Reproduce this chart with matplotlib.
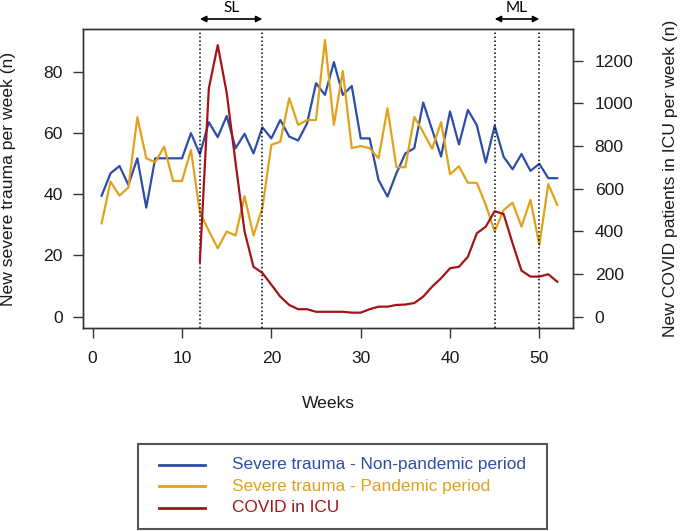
import matplotlib
matplotlib.use("Agg")
import matplotlib.pyplot as plt
from matplotlib.patches import Rectangle
from matplotlib.lines import Line2D

weeks = list(range(1, 53))
non_pandemic = [39.5, 46.8, 49.2, 43.0, 51.7, 35.6, 51.7, 51.7, 51.7, 51.7,
                59.9, 53.0, 63.5, 58.6, 65.5, 55.0, 59.7, 53.3, 61.8, 58.2,
                64.2, 58.8, 57.5, 63.1, 76.2, 72.4, 83.1, 72.4, 75.3, 58.2,
                58.2, 44.6, 39.2, 46.8, 53.3, 55.0, 69.9, 61.0, 52.3, 67.0,
                56.2, 67.5, 62.5, 50.3, 62.3, 52.2, 48.1, 53.1, 47.6, 49.9,
                45.2, 45.2]
pandemic = [30.5, 44.1, 39.5, 42.2, 65.1, 51.7, 50.4, 55.5, 44.3, 44.3,
            54.4, 34.0, 28.0, 22.3, 27.8, 26.5, 39.3, 26.5, 35.5, 56.1,
            57.1, 71.3, 62.6, 64.2, 64.2, 90.3, 62.6, 80.2, 55.0, 55.7,
            55.0, 51.7, 68.0, 48.8, 48.8, 65.2, 60.2, 54.8, 63.5, 46.5,
            49.1, 43.7, 43.7, 36.5, 27.8, 34.8, 37.2, 29.4, 38.1, 23.4,
            43.3, 36.5]
covid_weeks = list(range(12, 53))
covid_icu = [258, 1070, 1273, 1050, 720, 400, 234, 205, 150, 94,
             55, 35, 35, 23, 23, 23, 23, 19, 19, 35,
             47, 47, 55, 57, 64, 94, 141, 180, 227, 234,
             281, 391, 422, 495, 481, 344, 216, 188, 188, 199,
             164]

left_ticks = [0, 20, 40, 60, 80]
right_ticks = [0, 200, 400, 600, 800, 1000, 1200]
x_ticks = [0, 10, 20, 30, 40, 50]
sl_period = (12, 19)
ml_period = (45, 50)
legend_labels = ["Severe trauma - Non-pandemic period",
                 "Severe trauma - Pandemic period",
                 "COVID in ICU"]

BLUE = "#2E4DA7"
GOLD = "#E0A21B"
RED = "#A31419"
W, H = 685, 531
FONT = "Liberation Sans"
plt.rcParams["font.family"] = [FONT, "DejaVu Sans"]

fig = plt.figure(figsize=(W / 100, H / 100), dpi=100)
ax = fig.add_axes([83.3 / W, 1 - 328.3 / H, 490 / W, 299.6 / H])
ax2 = ax.twinx()

ax.plot(weeks, non_pandemic, color=BLUE, lw=1.6)
ax.plot(weeks, pandemic, color=GOLD, lw=1.6)
ax2.plot(covid_weeks, covid_icu, color=RED, lw=1.6)

ax.set_xlim(-1.05, 53.8)
ax.set_ylim(-3.79, 94.0)
ax2.set_ylim(-54.4, 1350)

ax.set_xticks(x_ticks)
ax.set_yticks(left_ticks)
ax2.set_yticks(right_ticks)

for a in (ax, ax2):
    for s in a.spines.values():
        s.set_color("#333333")
        s.set_linewidth(1.0)
ax.tick_params(axis="both", length=7.2, width=1.0, color="#333333",
               labelsize=12.6, labelcolor="#1a1a1a", pad=7.5)
ax.tick_params(axis="x", pad=9)
ax2.tick_params(axis="y", length=7.2, width=1.0, color="#333333",
                labelsize=12.6, labelcolor="#1a1a1a", pad=8.2)

for x in (*sl_period, *ml_period):
    ax.axvline(x, color="black", lw=1.1, ls=(0, (1, 1.6)))

trans = ax.get_xaxis_transform()
for (a, b), lab in ((sl_period, "SL"), (ml_period, "ML")):
    ax.annotate("", xy=(a, 1.0324), xytext=(b, 1.0324), xycoords=trans,
                textcoords=trans, annotation_clip=False,
                arrowprops=dict(arrowstyle="<|-|>", color="black", lw=1.2,
                                mutation_scale=9, shrinkA=0, shrinkB=0))
    ax.text((a + b) / 2, 1.068, lab, transform=trans, ha="center",
            va="center", fontsize=11, family=["Lato", "DejaVu Sans"])

fig.text(328.3 / W, 1 - 403 / H, "Weeks", ha="center", va="center",
         fontsize=12.6, color="#1a1a1a")
fig.text(9 / W, 1 - 178.5 / H, "New severe trauma per week (n)", rotation=90,
         ha="center", va="center", fontsize=12.6, color="#1a1a1a")
fig.text(671 / W, 1 - 178.5 / H, "New COVID patients in ICU per week (n)",
         rotation=90, ha="center", va="center", fontsize=12.6,
         color="#1a1a1a")

# legend box
fig.add_artist(Rectangle((138 / W, 1 - 529 / H), (547 - 138) / W,
                         (529 - 444) / H, transform=fig.transFigure,
                         fill=False, edgecolor="#555555", lw=1.5))
for lab, col, yy in zip(legend_labels, (BLUE, GOLD, RED), (465, 486, 507.5)):
    fy = 1 - yy / H
    fig.add_artist(Line2D([159 / W, 205 / W], [fy, fy],
                          transform=fig.transFigure, color=col, lw=2))
    fig.text(232 / W, fy, lab, color=col, va="center", ha="left",
             fontsize=12.4)

fig.savefig("out.png", dpi=100)
